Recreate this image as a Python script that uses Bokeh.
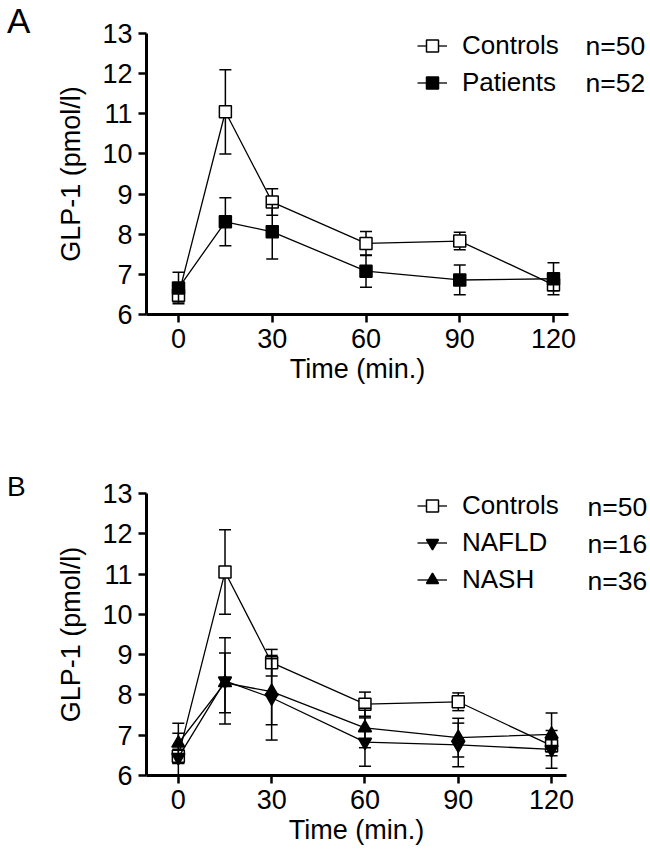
from bokeh.plotting import figure
from bokeh.models import (Legend, LegendItem, ColumnDataSource, Div,
                          FixedTicker, Range1d, LinearAxis)
from bokeh.layouts import column, row
from bokeh.embed import file_html
from bokeh.resources import INLINE

# ---- data -------------------------------------------------------------
time = [0, 15, 30, 60, 90, 120]
x_ticks = [0, 30, 60, 90, 120]
y_ticks = [6, 7, 8, 9, 10, 11, 12, 13]

controls = [6.48, 11.05, 8.80, 7.77, 7.83, 6.74]
controls_err = [0.17, 1.05, 0.33, 0.30, 0.22, 0.15]

patients = [6.66, 8.31, 8.06, 7.08, 6.86, 6.89]
patients_err = [0.39, 0.60, 0.68, 0.40, 0.37, 0.40]

nafld = [6.45, 8.35, 7.93, 6.83, 6.76, 6.65]
nafld_err = [0.60, 1.07, 1.05, 0.60, 0.54, 0.47]

nash = [6.80, 8.30, 8.08, 7.18, 6.94, 7.02]
nash_err = [0.50, 0.74, 0.82, 0.49, 0.48, 0.53]

labels_a = ["Controls", "Patients"]
counts_a = ["n=50", "n=52"]
labels_b = ["Controls", "NAFLD", "NASH"]
counts_b = ["n=50", "n=16", "n=36"]

FONT = "Liberation Sans"
FS = "27px"
LEG_FS = "26px"
ROW = 37
LEFT_W, MAIN_W = 38, 612


def make_fig(height, top, bottom):
    p = figure(width=MAIN_W, height=height,
               x_range=Range1d(-10.24, 124.8), y_range=Range1d(6, 13),
               output_backend="svg", toolbar_location=None,
               min_border_left=108, min_border_right=82,
               min_border_top=top, min_border_bottom=bottom)
    p.grid.visible = False
    p.outline_line_color = None
    p.xaxis.ticker = FixedTicker(ticks=x_ticks)
    p.yaxis.ticker = FixedTicker(ticks=y_ticks)
    for ax in (p.xaxis[0], p.yaxis[0]):
        ax.axis_line_width = 3
        ax.axis_line_color = "black"
        ax.major_tick_line_width = 2.5
        ax.major_tick_line_color = "black"
        ax.major_tick_out = 8
        ax.major_tick_in = 0
        ax.minor_tick_line_color = None
        ax.major_label_text_font = FONT
        ax.major_label_text_font_size = FS
        ax.major_label_text_color = "black"
        ax.major_label_standoff = 6
        ax.axis_label_text_font = FONT
        ax.axis_label_text_font_size = FS
        ax.axis_label_text_font_style = "normal"
        ax.axis_label_text_color = "black"
    p.xaxis.axis_label = "Time (min.)"
    p.xaxis.axis_label_standoff = 3
    p.yaxis.axis_label = "GLP-1 (pmol/l)"
    p.yaxis.axis_label_standoff = 13
    return p


def draw(p, vals, errs, marker, fill, size):
    lo = [v - e for v, e in zip(vals, errs)]
    hi = [v + e for v, e in zip(vals, errs)]
    src = ColumnDataSource(dict(t=time, v=vals, lo=lo, hi=hi))
    p.segment(x0="t", y0="lo", x1="t", y1="hi", source=src,
              line_color="black", line_width=1.5)
    p.scatter("t", "hi", marker="dash", size=12, line_color="black",
              line_width=1.5, source=src)
    p.scatter("t", "lo", marker="dash", size=12, line_color="black",
              line_width=1.5, source=src)
    ln = p.line("t", "v", line_color="black", line_width=1.3, source=src)
    mk = p.scatter("t", "v", marker=marker, size=size, fill_color=fill,
                   line_color="black", line_width=1.5, source=src)
    return [ln, mk]


def panel(height, top, bottom, frame_h, row0, series, names, counts, loc,
          count_standoff, letter, letter_size, letter_pad):
    p = make_fig(height, top, bottom)
    rends = [draw(p, *s) for s in series]
    items = [LegendItem(label=n, renderers=r) for n, r in zip(names, rends)]
    p.add_layout(Legend(items=items, location=loc, padding=0, margin=0,
                        spacing=0, glyph_width=30, glyph_height=ROW,
                        label_height=ROW, label_standoff=15,
                        label_text_font=FONT, label_text_font_size=LEG_FS,
                        label_text_color="black", border_line_color=None,
                        background_fill_alpha=0))
    # legend-row scale (row index 0, 1, ... from top) for the n= column
    p.extra_y_ranges = {"rows": Range1d(start=(frame_h - row0) / ROW,
                                        end=-row0 / ROW)}
    idx = list(range(len(counts)))
    cax = LinearAxis(y_range_name="rows", ticker=FixedTicker(ticks=idx),
                     major_label_overrides={i: c for i, c in zip(idx, counts)},
                     axis_line_color=None, major_tick_line_color=None,
                     minor_tick_line_color=None, major_tick_out=0,
                     major_tick_in=0, major_label_standoff=count_standoff,
                     major_label_text_font=FONT,
                     major_label_text_font_size="26.5px",
                     major_label_text_color="black")
    p.add_layout(cax, "right")
    html = ('<div style="font-family:\'Liberation Sans\';font-size:%s;'
            'line-height:normal;padding:%dpx 0 0 7px;color:black;margin:0">'
            '%s</div>' % (letter_size, letter_pad, letter))
    lab = Div(text=html, width=LEFT_W, height=height, margin=0)
    return row(lab, p, spacing=0)


# ---- panel A ------------------------------------------------------------
row_a = panel(430, 33, 116, 281, 12.5,
              [(controls, controls_err, "square", "white", 12),
               (patients, patients_err, "square", "black", 12)],
              labels_a, counts_a, (271, 213), 17, "A", "35px", 1)

# ---- panel B ------------------------------------------------------------
row_b = panel(429, 63, 84, 282, 13,
              [(controls, controls_err, "square", "white", 12),
               (nafld, nafld_err, "inverted_triangle", "black", 13),
               (nash, nash_err, "triangle", "black", 13)],
              labels_b, counts_b, (271, 177), 21, "B", "28px", 41)

layout = column(row_a, row_b, spacing=0)
open("out.html", "w").write(file_html(layout, INLINE))
